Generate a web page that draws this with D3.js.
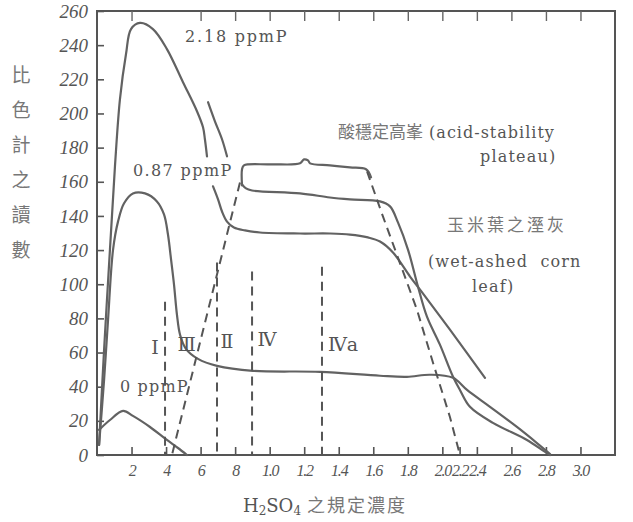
<!DOCTYPE html>
<html>
<head>
<meta charset="utf-8">
<script src="https://cdn.jsdelivr.net/npm/d3@7"></script>
<style>
  body { margin: 0; background: #fff; }
</style>
</head>
<body>
<script>
// 刻度 (hand-written labels on the x axis sit a bit off the tick marks in the original)
const xLabelTicks = [0.2, 0.4, 0.6, 0.8, 1.0, 1.2, 1.4, 1.6, 1.8, 2.0, 2.1, 2.2, 2.4, 2.6, 2.8];
const xTickLabels = ["2", "4", "6", "8", "1.0", "1.2", "1.4", "1.6", "1.8", "2.0", "2.2", "2.4", "2.6", "2.8", "3.0"];
const topTicks = [0.2, 0.6, 0.8, 1.0, 1.2, 1.4, 1.6, 1.8, 2.0, 2.2, 2.4, 2.6, 2.8];
const yTicks = [0, 20, 40, 60, 80, 100, 120, 140, 160, 180, 200, 220, 240, 260];

// solid curves: [H2SO4 N, reading]
const curve218 = [[0.012, 5.9], [0.041, 61.6], [0.075, 120.3], [0.104, 169.0], [0.133, 208.4], [0.168, 234.8],
  [0.197, 249.4], [0.249, 253.0], [0.324, 249.4], [0.405, 237.7], [0.498, 218.3], [0.579, 201.3],
  [0.614, 191.9], [0.625, 184.9], [0.637, 174.9]];
const curve218b = [[0.643, 206.6], [0.683, 195.4], [0.724, 184.9], [0.753, 174.9]];
const curve087 = [[0.012, 5.9], [0.041, 44.0], [0.064, 79.2], [0.093, 120.3], [0.122, 136.8], [0.156, 147.3],
  [0.208, 153.2], [0.278, 153.2], [0.347, 148.5], [0.388, 140.9], [0.411, 129.1], [0.429, 114.4],
  [0.446, 99.8], [0.463, 82.2], [0.481, 70.4], [0.515, 62.2], [0.585, 56.3], [0.695, 52.2],
  [0.903, 49.3], [1.291, 48.7], [1.639, 46.4], [1.795, 45.8], [1.929, 47.0], [2.062, 45.2],
  [2.143, 38.1], [2.276, 28.2], [2.432, 16.4], [2.548, 7.0], [2.624, 0.6]];
const curve0 = [[0.012, 14.7], [0.075, 20.5], [0.151, 25.8], [0.208, 22.9], [0.307, 16.4], [0.405, 8.8],
  [0.469, 4.1], [0.521, 0]];
const plateauTop = [[0.840, 157.9], [0.840, 167.3], [0.851, 169.6], [1.002, 170.2], [1.176, 170.8],
  [1.199, 173.1], [1.222, 172.5], [1.234, 170.8], [1.349, 169.6], [1.465, 168.4], [1.558, 167.3], [1.587, 162.6]];
const plateauMid = [[0.840, 158.5], [0.863, 156.1], [0.898, 154.9], [1.176, 153.2], [1.349, 150.8],
  [1.465, 149.7], [1.639, 148.5], [1.697, 145.6], [1.743, 136.2], [1.801, 120.3], [1.859, 98.6],
  [1.911, 81.0], [1.986, 64.6], [2.062, 45.8], [2.102, 38.1], [2.160, 28.2], [2.293, 18.8],
  [2.490, 8.8], [2.595, 1.8], [2.624, 0]];
const plateauLow = [[0.672, 157.3], [0.701, 149.7], [0.724, 142.6], [0.753, 136.7], [0.793, 133.2],
  [0.857, 131.5], [0.944, 130.3], [1.176, 129.7], [1.349, 129.7], [1.465, 129.1], [1.569, 127.4],
  [1.639, 125.0], [1.714, 118.6], [1.813, 104.5], [1.871, 96.8], [2.044, 73.4], [2.247, 45.2]];

// dashed guide lines
const dashI = [[0.394, 89.8], [0.394, 0]];
const dashIII = [[0.828, 159.6], [0.434, 0]];
const dashII = [[0.695, 112.7], [0.695, 0]];
const dashIV = [[0.898, 107.4], [0.898, 0]];
const dashIVa = [[1.303, 110.3], [1.303, 0]];
const dashPlateau = [[1.564, 166.1], [1.656, 139.7], [1.853, 85.1], [1.946, 54.0], [2.044, 22.3], [2.102, 0]];

const romanLabels = [["I", 0.336, 63], ["Ⅲ", 0.52, 65], ["Ⅱ", 0.753, 67], ["Ⅳ", 0.985, 68], ["Ⅳa", 1.425, 65]];
const yTitle = ["比", "色", "計", "之", "讀", "數"];

(function () {
    const width = 633;
    const height = 522;
    const left = 97, right = 615, top = 11, bottom = 455;

    const svg = d3.select("body")
        .append("svg")
        .attr("width", width)
        .attr("height", height);

    const x = d3.scaleLinear().domain([0, 3.0]).range([left, right]);
    const y = d3.scaleLinear().domain([0, 260]).range([bottom, top]);

    const ink = "#626262";
    const handFont = "'Liberation Serif', 'DejaVu Serif', serif";
    const typeFont = "'DejaVu Serif', 'Liberation Serif', serif";
    const cjkFont = "'Noto Sans CJK TC', 'Noto Sans CJK SC', sans-serif";

    // frame
    svg.append("rect")
        .attr("x", left).attr("y", top)
        .attr("width", right - left).attr("height", bottom - top)
        .attr("fill", "none")
        .attr("stroke", "#555")
        .attr("stroke-width", 2);

    // bottom axis
    const xAxis = svg.append("g")
        .attr("transform", "translate(0," + bottom + ")")
        .call(d3.axisBottom(x)
            .tickValues(xLabelTicks)
            .tickSizeInner(-8).tickSizeOuter(0)
            .tickPadding(10)
            .tickFormat((d, i) => xTickLabels[i]));
    xAxis.select(".domain").remove();
    xAxis.selectAll(".tick line").attr("stroke", "#555").attr("stroke-width", 1.6);
    xAxis.selectAll("text")
        .attr("font-family", handFont)
        .attr("font-style", "italic")
        .attr("font-size", 16)
        .attr("letter-spacing", -1.2)
        .attr("fill", "#555");

    // top ticks
    const xTop = svg.append("g")
        .attr("transform", "translate(0," + top + ")")
        .call(d3.axisTop(x).tickValues(topTicks).tickSizeInner(-10).tickSizeOuter(0).tickFormat(""));
    xTop.select(".domain").remove();
    xTop.selectAll(".tick line").attr("stroke", "#666").attr("stroke-width", 1.4);

    // left axis
    const yAxis = svg.append("g")
        .attr("transform", "translate(" + left + ",0)")
        .call(d3.axisLeft(y).tickValues(yTicks).tickSizeInner(-7).tickSizeOuter(0).tickPadding(9));
    yAxis.select(".domain").remove();
    yAxis.selectAll(".tick line").attr("stroke", "#555").attr("stroke-width", 1.6);
    yAxis.selectAll("text")
        .attr("font-family", handFont)
        .attr("font-style", "italic")
        .attr("font-size", 19)
        .attr("fill", "#555");

    const line = d3.line()
        .x(d => x(d[0]))
        .y(d => y(d[1]))
        .curve(d3.curveCatmullRom.alpha(0.5));
    const straight = d3.line()
        .x(d => x(d[0]))
        .y(d => y(d[1]));

    // solid curves
    [curve218, curve218b, curve087, curve0, plateauTop, plateauMid, plateauLow].forEach(function (s) {
        svg.append("path")
            .attr("d", line(s))
            .attr("fill", "none")
            .attr("stroke", ink)
            .attr("stroke-width", 2.2)
            .attr("stroke-linecap", "round")
            .attr("stroke-linejoin", "round");
    });

    // dashed lines
    [dashI, dashIII, dashII, dashIV, dashIVa, dashPlateau].forEach(function (s) {
        svg.append("path")
            .attr("d", straight(s))
            .attr("fill", "none")
            .attr("stroke", "#555")
            .attr("stroke-width", 2)
            .attr("stroke-dasharray", "9,6");
    });

    // roman numerals
    romanLabels.forEach(function (r) {
        svg.append("text")
            .attr("x", x(r[1]))
            .attr("y", y(r[2]))
            .attr("text-anchor", "middle")
            .attr("dominant-baseline", "central")
            .attr("font-family", typeFont)
            .attr("font-size", 19)
            .attr("fill", "#555")
            .text(r[0]);
    });

    // curve labels
    function label(txt, xv, yv, size, spacing, font, fill) {
        return svg.append("text")
            .attr("x", x(xv))
            .attr("y", y(yv))
            .attr("font-family", font || typeFont)
            .attr("font-size", size)
            .attr("letter-spacing", spacing)
            .attr("fill", fill || "#555")
            .style("white-space", "pre")
            .text(txt);
    }
    label("2.18 ppmP", 0.51, 241.8, 16, 1.8);
    label("0.87 ppmP", 0.208, 163.5, 16, 1.4);
    label("0 ppmP", 0.133, 37, 16, 1.2);

    const t1 = svg.append("text")
        .attr("x", x(1.396)).attr("y", y(185.9))
        .attr("font-size", 16).attr("fill", "#555")
        .style("white-space", "pre");
    t1.append("tspan").attr("font-family", cjkFont).attr("fill", "#777").attr("font-size", 17).text("酸穩定高峯");
    t1.append("tspan").attr("font-family", typeFont).attr("letter-spacing", 1).text(" (acid-stability");
    label("plateau)", 2.218, 171.8, 16, 1.2);
    label("玉米葉之溼灰", 2.027, 131.2, 17, 3, cjkFont, "#777");
    label("(wet-ashed  corn", 1.917, 110, 16, 1.1);
    label("leaf)", 2.172, 95.3, 16, 1.2);

    // axis titles
    yTitle.forEach(function (c, i) {
        svg.append("text")
            .attr("x", 21)
            .attr("y", 82 + i * 35)
            .attr("text-anchor", "middle")
            .attr("font-family", cjkFont)
            .attr("font-size", 19)
            .attr("fill", "#777")
            .text(c);
    });

    const xt = svg.append("text")
        .attr("x", 325).attr("y", 512)
        .attr("text-anchor", "middle")
        .attr("font-size", 18)
        .attr("fill", "#555")
        .style("white-space", "pre");
    xt.append("tspan").attr("font-family", typeFont).text("H");
    xt.append("tspan").attr("font-family", typeFont).attr("font-size", 12).attr("dy", 3).text("2");
    xt.append("tspan").attr("font-family", typeFont).attr("dy", -3).text("SO");
    xt.append("tspan").attr("font-family", typeFont).attr("font-size", 12).attr("dy", 3).text("4");
    xt.append("tspan").attr("font-family", cjkFont).attr("fill", "#777").attr("dy", -3).attr("letter-spacing", 2).text(" 之規定濃度");
})();
</script>
</body>
</html>
